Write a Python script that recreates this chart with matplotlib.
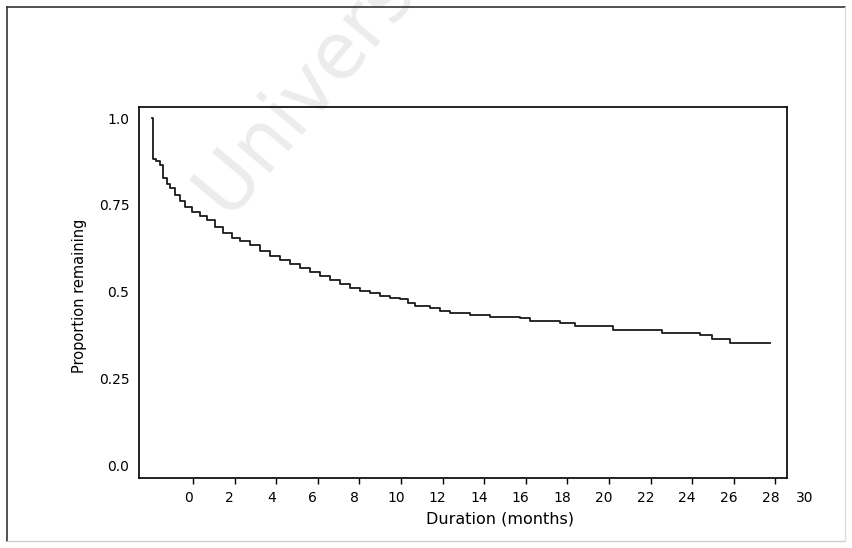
#!/usr/bin/env python3
# Curva de permanencia (Kaplan-Meier) escaneada: proporción restante vs duración
import numpy as np
import matplotlib
matplotlib.use("Agg")
import matplotlib.pyplot as plt
from matplotlib.lines import Line2D
from matplotlib.transforms import ScaledTranslation

# tiempos (meses) y proporción restante
t_months = [-1.97, -1.95, -1.78, -1.59, -1.44, -1.25, -1.11, -0.87, -0.63, -0.38,
            -0.05, 0.34, 0.67, 1.06, 1.44, 1.88, 2.26, 2.74, 3.22, 3.70,
            4.18, 4.66, 5.14, 5.63, 6.11, 6.59, 7.07, 7.55, 8.03, 8.51,
            8.99, 9.47, 9.95, 10.34, 10.67, 11.39, 11.88, 12.36, 13.32, 14.28,
            15.72, 16.20, 17.64, 18.37, 20.19, 22.55, 24.38, 24.95, 25.82, 27.74]
remaining = [1.0, 0.882, 0.876, 0.865, 0.827, 0.810, 0.798, 0.778, 0.761, 0.744,
             0.729, 0.718, 0.706, 0.686, 0.669, 0.654, 0.646, 0.634, 0.617, 0.602,
             0.591, 0.579, 0.568, 0.556, 0.545, 0.533, 0.522, 0.510, 0.501, 0.496,
             0.487, 0.481, 0.478, 0.467, 0.458, 0.452, 0.444, 0.438, 0.432, 0.427,
             0.424, 0.415, 0.409, 0.401, 0.389, 0.380, 0.375, 0.363, 0.352, 0.352]

x_ticks = list(range(0, 30, 2))
y_ticks = [0.0, 0.25, 0.5, 0.75, 1.0]
y_labels = ["0.0", "0.25", "0.5", "0.75", "1.0"]

W, H = 852, 548
fig = plt.figure(figsize=(W / 100, H / 100), dpi=100)
ax = fig.add_axes([139 / W, 70 / H, 648 / W, 371 / H])
ax.set_facecolor("none")

# marca de agua del escaneo (sale por el borde superior, como en el original)
fig.text(230 / W, 1 - 222 / H, "University of Cape Town", fontsize=56,
         color="#ececec", rotation=50, rotation_mode="anchor",
         ha="left", va="baseline", zorder=-1)

ax.plot(t_months, remaining, drawstyle="steps-post", color="#1a1a1a", lw=1.3)

ax.set_xlim(-2.6, 28.56)
ax.set_ylim(-0.037, 1.032)
ax.set_xticks(x_ticks)
ax.set_xticklabels([str(v) for v in x_ticks])
ax.set_yticks(y_ticks)
ax.set_yticklabels(y_labels)
ax.tick_params(axis="x", direction="out", length=4, width=1, labelsize=10, pad=5)
ax.tick_params(axis="y", length=0, labelsize=10, pad=7)
off = ScaledTranslation(-5 / 100, 0, fig.dpi_scale_trans)
for lab in ax.get_xticklabels():
    lab.set_transform(lab.get_transform() + off)
# la etiqueta 30 queda fuera del eje
ax.text(30, 0, "30", fontsize=10, ha="center", va="top", clip_on=False,
        transform=ax.get_xaxis_transform()
        + ScaledTranslation(-12 / 100, -13 / 100, fig.dpi_scale_trans))

for s in ax.spines.values():
    s.set_linewidth(1.3)
    s.set_color("#111111")

ax.set_xlabel("Duration (months)", fontsize=11.5)
ax.xaxis.set_label_coords(0.557, -0.089)
ax.set_ylabel("Proportion remaining", fontsize=10.5)
ax.yaxis.set_label_coords(-0.08, 0.49)

# marco exterior de la figura
fig.add_artist(Line2D([7 / W, 7 / W], [1 - 7 / H, 1 - 541 / H], color="#333333", lw=1.2))
fig.add_artist(Line2D([7 / W, 845 / W], [1 - 7 / H, 1 - 7 / H], color="#333333", lw=1.2))
fig.add_artist(Line2D([7 / W, 845 / W], [1 - 541 / H, 1 - 541 / H], color="#cccccc", lw=1))
fig.add_artist(Line2D([845 / W, 845 / W], [1 - 7 / H, 1 - 541 / H], color="#dddddd", lw=1))

fig.savefig("out.png", dpi=100)
